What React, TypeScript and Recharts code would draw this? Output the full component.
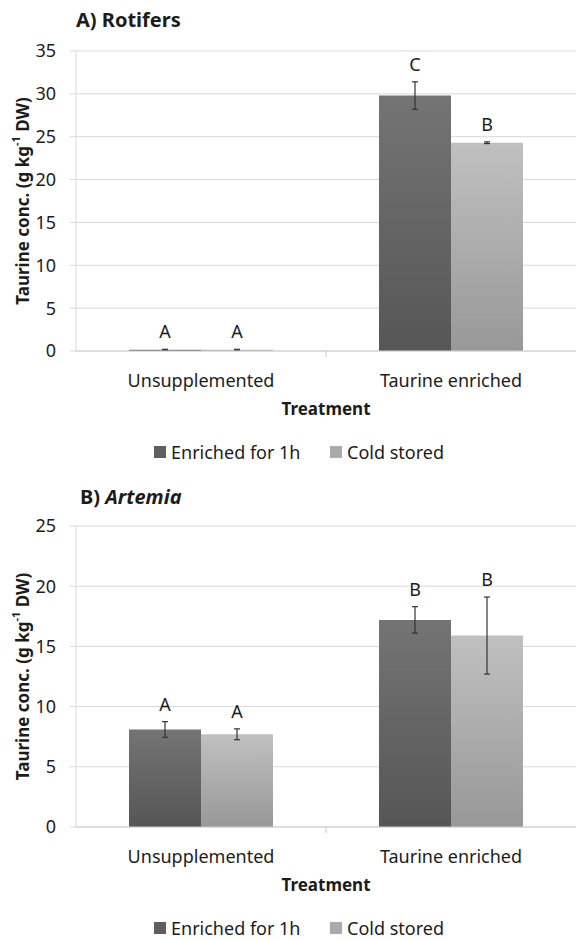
import React from 'react';
import { BarChart, Bar, XAxis, YAxis, CartesianGrid, ErrorBar, LabelList } from 'recharts';

// treatments and series
const categories = ['Unsupplemented', 'Taurine enriched'];
const seriesNames = ['Enriched for 1h', 'Cold stored'];

// A) Rotifers, g kg-1 DW
const rotiferEnriched = [0.15, 29.8];
const rotiferEnrichedErr = [0.05, 1.6];
const rotiferEnrichedLetters = ['A', 'C'];
const rotiferCold = [0.15, 24.3];
const rotiferColdErr = [0.05, 0.1];
const rotiferColdLetters = ['A', 'B'];
const rotiferTicks = [0, 5, 10, 15, 20, 25, 30, 35];

// B) Artemia, g kg-1 DW
const artemiaEnriched = [8.1, 17.2];
const artemiaEnrichedErr = [0.65, 1.1];
const artemiaEnrichedLetters = ['A', 'B'];
const artemiaCold = [7.7, 15.9];
const artemiaColdErr = [0.45, 3.2];
const artemiaColdLetters = ['A', 'B'];
const artemiaTicks = [0, 5, 10, 15, 20, 25];

const FONT = '"Noto Sans", "Open Sans", sans-serif';
const TEXT = '#1c1c1c';
const GRID = '#d9d9d9';
const HALF_BAND = 125;

const buildRows = (a: number[], aErr: number[], b: number[], bErr: number[]) =>
  categories.map((name, i) => ({
    name,
    enriched: a[i],
    enrichedErr: aErr[i],
    cold: b[i],
    coldErr: bErr[i],
  }));

// significance letter sitting above the error bar cap
const letterLabel = (values: number[], errs: number[], letters: string[]) => (props: any) => {
  const { x, y, width, height, index } = props;
  const v = values[index];
  const pxPerUnit = v ? height / v : 0;
  const errTop = y - errs[index] * pxPerUnit;
  return (
    <text
      x={x + width / 2}
      y={errTop - 18}
      textAnchor="middle"
      dominantBaseline="central"
      fontSize={18}
      fontFamily={FONT}
      fill={TEXT}
    >
      {letters[index]}
    </text>
  );
};

const CategoryTick = ({ x, y, payload, index }: any) => (
  <g>
    {index === 0 && (
      <line x1={x + HALF_BAND} x2={x + HALF_BAND} y1={y} y2={y + 6} stroke="#c8c8c8" />
    )}
    <text x={x} y={y + 29} textAnchor="middle" dominantBaseline="central" fontSize={18} fontFamily={FONT} fill={TEXT}>
      {payload.value}
    </text>
  </g>
);

const YTitle = ({ cy }: { cy: number }) => (
  <text
    transform={`translate(22, ${cy}) rotate(-90)`}
    textAnchor="middle"
    dominantBaseline="central"
    fontSize={17}
    fontWeight="bold"
    fontFamily={FONT}
    fill={TEXT}
  >
    Taurine conc. (g kg<tspan dy={-7} fontSize={11}>-1</tspan>
    <tspan dy={7}> DW)</tspan>
  </text>
);

const LegendRow = ({ top }: { top: number }) => {
  const items = [
    { name: seriesNames[0], color: '#5f5f5f', left: 154 },
    { name: seriesNames[1], color: '#ababab', left: 330 },
  ];
  return (
    <>
      {items.map((it) => (
        <div key={it.name} style={{ position: 'absolute', top: top - 13, left: it.left, height: 26, display: 'flex', alignItems: 'center' }}>
          <span style={{ width: 12, height: 12, background: it.color, marginRight: 5 }} />
          <span style={{ fontSize: 18, fontFamily: FONT, color: TEXT }}>{it.name}</span>
        </div>
      ))}
    </>
  );
};

interface PanelProps {
  top: number;
  height: number;
  marginTop: number;
  marginBottom: number;
  rows: ReturnType<typeof buildRows>;
  ticks: number[];
  enriched: number[];
  enrichedErr: number[];
  enrichedLetters: string[];
  cold: number[];
  coldErr: number[];
  coldLetters: string[];
  id: string;
}

const Panel = (p: PanelProps) => (
  <div style={{ position: 'absolute', top: p.top, left: 0 }}>
    <BarChart
      width={576}
      height={p.height}
      data={p.rows}
      margin={{ top: p.marginTop, right: 0, left: 30, bottom: p.marginBottom }}
      barGap={0}
      barSize={72}
    >
      <defs>
        <linearGradient id={`${p.id}-dark`} x1="0" y1="0" x2="0" y2="1">
          <stop offset="0%" stopColor="#747474" />
          <stop offset="100%" stopColor="#565656" />
        </linearGradient>
        <linearGradient id={`${p.id}-light`} x1="0" y1="0" x2="0" y2="1">
          <stop offset="0%" stopColor="#c0c0c0" />
          <stop offset="100%" stopColor="#989898" />
        </linearGradient>
      </defs>
      <CartesianGrid vertical={false} stroke={GRID} />
      <XAxis
        dataKey="name"
        interval={0}
        height={70}
        tickLine={false}
        tickSize={0}
        tickMargin={0}
        axisLine={{ stroke: '#cfcfcf' }}
        tick={<CategoryTick />}
        label={{
          content: (lp: any) => (
            <text
              x={lp.viewBox.x + lp.viewBox.width / 2}
              y={lp.viewBox.y + 57}
              textAnchor="middle"
              dominantBaseline="central"
              fontSize={17}
              fontWeight="bold"
              fontFamily={FONT}
              fill={TEXT}
            >
              Treatment
            </text>
          ),
        }}
      />
      <YAxis
        width={46}
        domain={[0, p.ticks[p.ticks.length - 1]]}
        ticks={p.ticks}
        interval={0}
        tickSize={6}
        tickMargin={14}
        axisLine={{ stroke: GRID }}
        tickLine={{ stroke: GRID }}
        tick={{ fontSize: 18, fontFamily: FONT, fill: TEXT }}
        label={{
          content: (lp: any) => <YTitle cy={lp.viewBox.y + lp.viewBox.height / 2} />,
        }}
      />
      <Bar dataKey="enriched" name={seriesNames[0]} fill={`url(#${p.id}-dark)`} isAnimationActive={false}>
        <ErrorBar dataKey="enrichedErr" width={3} stroke="#333333" strokeWidth={1.2} />
        <LabelList dataKey="enriched" content={letterLabel(p.enriched, p.enrichedErr, p.enrichedLetters)} />
      </Bar>
      <Bar dataKey="cold" name={seriesNames[1]} fill={`url(#${p.id}-light)`} isAnimationActive={false}>
        <ErrorBar dataKey="coldErr" width={3} stroke="#333333" strokeWidth={1.2} />
        <LabelList dataKey="cold" content={letterLabel(p.cold, p.coldErr, p.coldLetters)} />
      </Bar>
    </BarChart>
  </div>
);

const titleStyle: React.CSSProperties = {
  position: 'absolute',
  left: 76,
  fontFamily: FONT,
  fontSize: 20,
  fontWeight: 'bold',
  color: TEXT,
  lineHeight: '26px',
  whiteSpace: 'nowrap',
};

export default function App() {
  return (
    <div style={{ position: 'absolute', left: 0, top: 0, width: 576, height: 941, background: '#fff', overflow: 'hidden' }}>
      <Panel
        id="rot"
        top={0}
        height={470}
        marginTop={51}
        marginBottom={49}
        rows={buildRows(rotiferEnriched, rotiferEnrichedErr, rotiferCold, rotiferColdErr)}
        ticks={rotiferTicks}
        enriched={rotiferEnriched}
        enrichedErr={rotiferEnrichedErr}
        enrichedLetters={rotiferEnrichedLetters}
        cold={rotiferCold}
        coldErr={rotiferColdErr}
        coldLetters={rotiferColdLetters}
      />
      <Panel
        id="art"
        top={470}
        height={471}
        marginTop={56}
        marginBottom={44}
        rows={buildRows(artemiaEnriched, artemiaEnrichedErr, artemiaCold, artemiaColdErr)}
        ticks={artemiaTicks}
        enriched={artemiaEnriched}
        enrichedErr={artemiaEnrichedErr}
        enrichedLetters={artemiaEnrichedLetters}
        cold={artemiaCold}
        coldErr={artemiaColdErr}
        coldLetters={artemiaColdLetters}
      />
      <div style={{ ...titleStyle, top: 7 }}>A) Rotifers</div>
      <div style={{ ...titleStyle, top: 484, left: 80 }}>
        B) <i>Artemia</i>
      </div>
      <LegendRow top={452} />
      <LegendRow top={928} />
    </div>
  );
}
